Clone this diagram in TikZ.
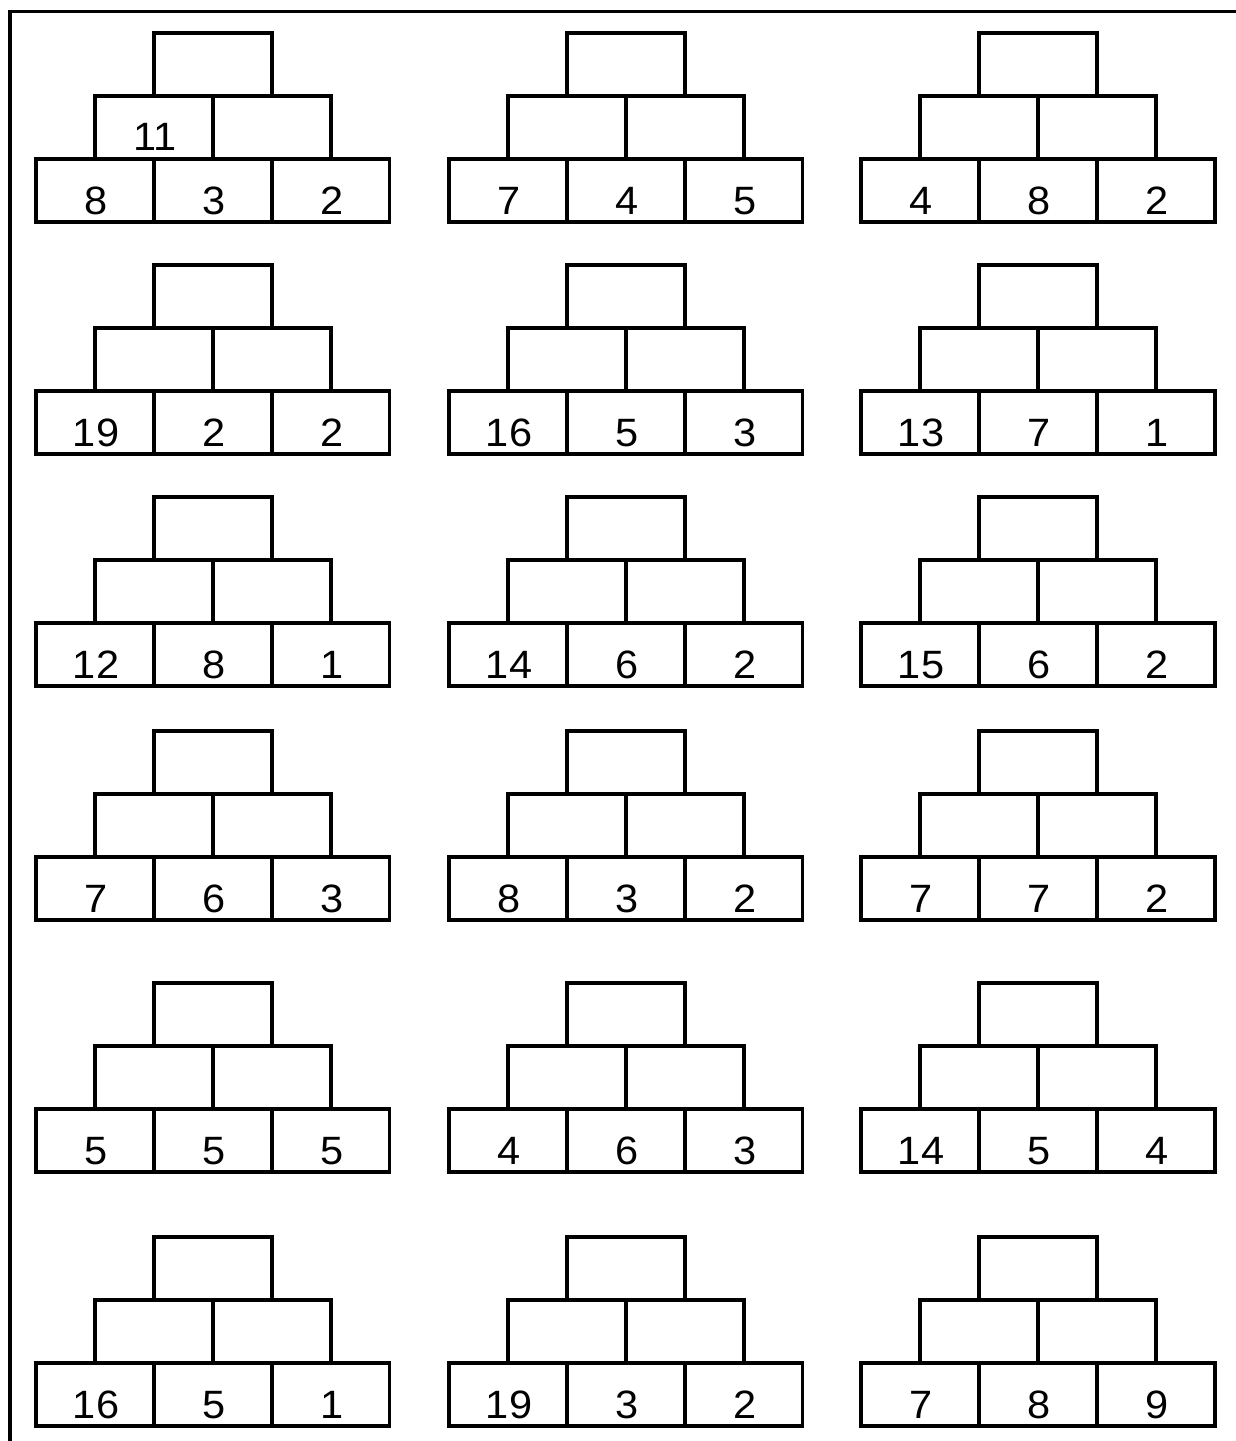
\documentclass[tikz,border=0pt]{standalone}
\usepackage{fontspec}
\setmainfont{Liberation Sans}
\usepackage{tikz}
\usetikzlibrary{positioning}

% one pyramid: name, centre of its lower left brick, three base numbers
\newcommand{\pyramid}[6]{%
    \node[brick] (#1a) at (#2,#3) {};
    \node[brick, right=0pt of #1a] (#1b) {};
    \node[brick, right=0pt of #1b] (#1c) {};
    \node[brick, above=0pt of #1a.north east] (#1d) {};
    \node[brick, above=0pt of #1b.north east] (#1e) {};
    \node[brick, above=0pt of #1d.north east] (#1f) {};
    \node[num] (#1na) at ([yshift=0.16cm]#1a.south) {#4};
    \node[num] (#1nb) at ([yshift=0.16cm]#1b.south) {#5};
    \node[num] (#1nc) at ([yshift=0.16cm]#1c.south) {#6};
}

\begin{document}
\begin{tikzpicture}[
    x=0.02cm, y=-0.02cm,
    brick/.style={rectangle, draw, line width=0.062cm, minimum width=2.36cm, minimum height=1.26cm, inner sep=0pt, outer sep=0pt},
    num/.style={anchor=base, inner sep=0pt, xscale=1.05, xshift=0.02cm, font=\fontsize{22.5}{26}\selectfont},
]
    \useasboundingbox (0,0) rectangle (1236,1441);

    % Frame
    \draw[line width=0.062cm] (10,1441) |- (1236,11.5);

    % Row 1
    \pyramid{ra}{95}{190.5}{8}{3}{2}
    \pyramid{rb}{508}{190.5}{7}{4}{5}
    \pyramid{rc}{920}{190.5}{4}{8}{2}
    \node[num] (given) at ([yshift=0.18cm]rad.south) {11};

    % Row 2
    \pyramid{sa}{95}{422.5}{19}{2}{2}
    \pyramid{sb}{508}{422.5}{16}{5}{3}
    \pyramid{sc}{920}{422.5}{13}{7}{1}

    % Row 3
    \pyramid{ta}{95}{654.5}{12}{8}{1}
    \pyramid{tb}{508}{654.5}{14}{6}{2}
    \pyramid{tc}{920}{654.5}{15}{6}{2}

    % Row 4
    \pyramid{ua}{95}{888.5}{7}{6}{3}
    \pyramid{ub}{508}{888.5}{8}{3}{2}
    \pyramid{uc}{920}{888.5}{7}{7}{2}

    % Row 5
    \pyramid{va}{95}{1140.5}{5}{5}{5}
    \pyramid{vb}{508}{1140.5}{4}{6}{3}
    \pyramid{vc}{920}{1140.5}{14}{5}{4}

    % Row 6
    \pyramid{wa}{95}{1394.5}{16}{5}{1}
    \pyramid{wb}{508}{1394.5}{19}{3}{2}
    \pyramid{wc}{920}{1394.5}{7}{8}{9}

\end{tikzpicture}
\end{document}
